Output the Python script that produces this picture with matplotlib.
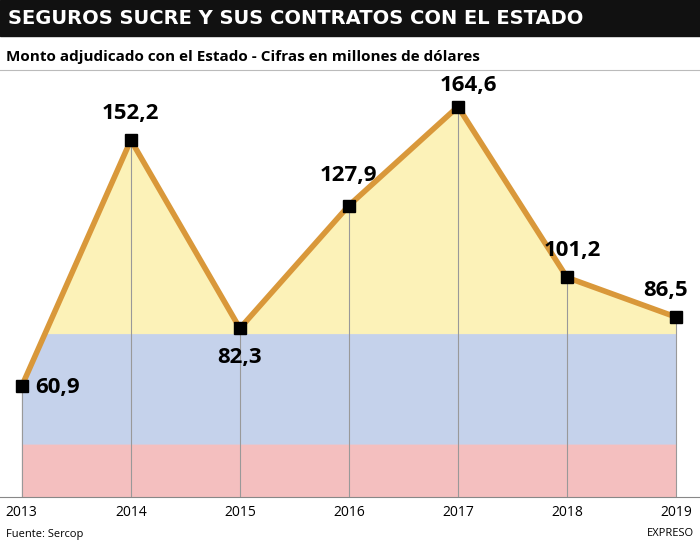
import matplotlib
matplotlib.use("Agg")
import matplotlib.pyplot as plt
import numpy as np
from matplotlib.patches import Polygon

years = [2013, 2014, 2015, 2016, 2017, 2018, 2019]
values = [60.9, 152.2, 82.3, 127.9, 164.6, 101.2, 86.5]
labels = ["60,9", "152,2", "82,3", "127,9", "164,6", "101,2", "86,5"]

fig = plt.figure(figsize=(7, 5.42), dpi=100)
fig.patch.set_facecolor("white")

fig.patches.append(plt.Rectangle((0, 1 - 36/542), 1, 36/542, transform=fig.transFigure, color="#111111"))
fig.text(0.012, 1 - 18/542, "SEGUROS SUCRE Y SUS CONTRATOS CON EL ESTADO", color="white",
         fontsize=14, fontweight="bold", va="center", family="DejaVu Sans Condensed")
fig.text(0.008, 1 - 57/542, "Monto adjudicado con el Estado - Cifras en millones de dólares",
         fontsize=11, fontweight="bold", va="center", family="Open Sans")
fig.lines.append(plt.Line2D([0, 1], [1 - 70/542, 1 - 70/542], transform=fig.transFigure, color="#bbbbbb", lw=0.8))

ax = fig.add_axes([0, 45/542, 1, (497-45)/542])
ax.set_xlim(2012.8, 2019.22)
ymin = 19.7
ytop = ymin + (497-72)/2.694
ax.set_ylim(ymin, ymin + (497-45)/2.694)
for s in ["left", "right", "top"]:
    ax.spines[s].set_visible(False)
ax.spines["bottom"].set_color("#888888")
ax.set_yticks([])
ax.set_xticks(years)
ax.set_xticklabels([str(y) for y in years], fontsize=10, family="Open Sans")
ax.tick_params(axis="x", length=0, pad=6)

h = 300
flag = np.zeros((h, 10, 4))
y_vals = np.linspace(ytop, ymin, h)
for i, yv in enumerate(y_vals):
    if yv > 80:
        flag[i] = [0.98, 0.9, 0.45, 0.5]
    elif yv > 39:
        flag[i] = [0.55, 0.65, 0.85, 0.5]
    else:
        flag[i] = [0.92, 0.5, 0.5, 0.5]
im = ax.imshow(flag, extent=[2012.8, 2019.22, ymin, ytop], aspect="auto", zorder=1)
poly = Polygon(list(zip(years, values)) + [(2019, ymin), (2013, ymin)], closed=True, transform=ax.transData)
im.set_clip_path(poly)

for x, v in zip(years, values):
    ax.plot([x, x], [ymin, v], color="#999999", lw=0.8, zorder=2)
ax.plot(years, values, color="#d9983a", lw=4, zorder=3)
ax.plot(years, values, "s", color="black", ms=8, zorder=4)

offs = [(0.12, -0.5, "left"), (0, 10, "center"), (0, -11, "center"), (0, 11, "center"),
        (0.1, 8, "center"), (0.05, 10, "center"), (-0.1, 10, "center")]
for x, v, l, (dx, dy, ha) in zip(years, values, labels, offs):
    ax.text(x + dx, v + dy, l, fontsize=16, fontweight="bold", ha=ha, va="center",
            family="Open Sans", zorder=5)

fig.text(0.008, 1 - 534/542, "Fuente: Sercop", fontsize=8, va="center", family="Open Sans")
fig.text(0.992, 1 - 534/542, "EXPRESO", fontsize=8, va="center", ha="right", family="Open Sans")
fig.savefig("out.png", dpi=100)
